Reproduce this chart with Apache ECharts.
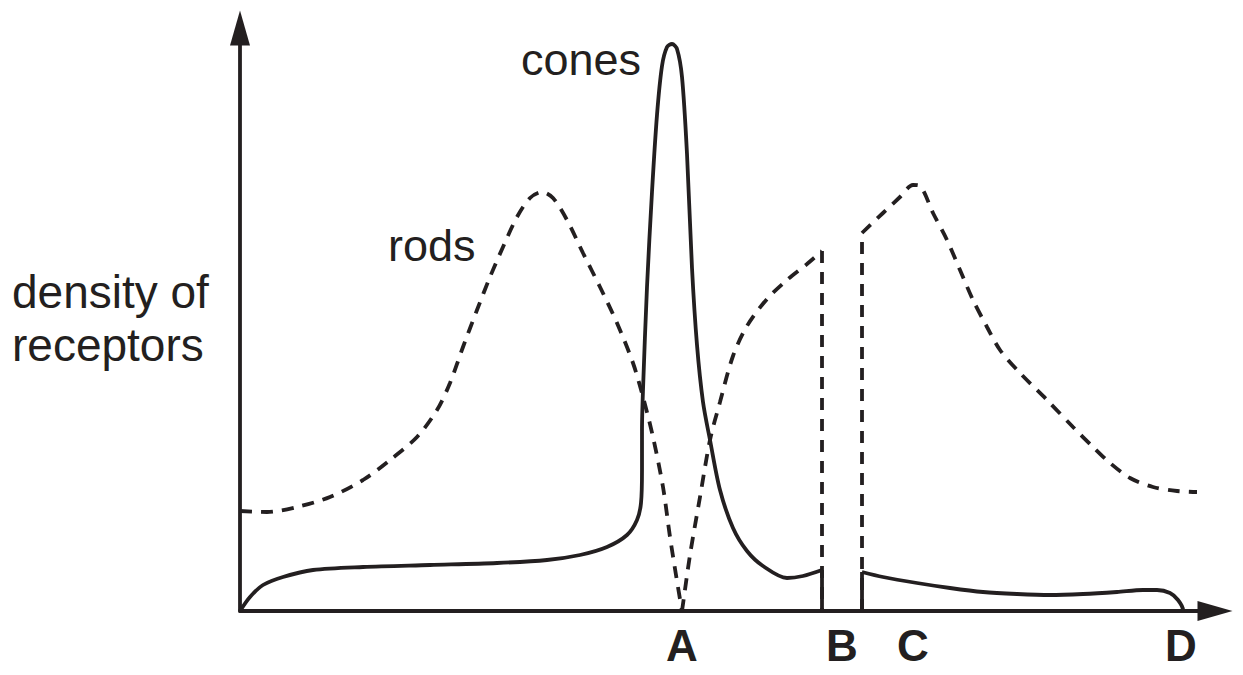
<!DOCTYPE html>
<html>
<head>
<meta charset="utf-8">
<script src="https://cdn.jsdelivr.net/npm/echarts@6.0.0/dist/echarts.min.js"></script>
<style>
  html, body { margin: 0; padding: 0; background: #fff; }
  #main { width: 1243px; height: 675px; }
</style>
</head>
<body>
<div id="main"></div>
<script>
// position along the retina (x) / receptor density (y), arbitrary units
var rodsLeft = [[0,100],[27,99],[57,104],[90,114],[123,131],[150,151],[177,174],[197,201],[210,228],[223,264],
  [237,301],[250,334],[263,364],[277,394],[290,413],[302,419],[313,413],[327,391],[343,358],[360,324],
  [377,288],[393,248],[403,214],[413,174],[423,124],[430,74],[436,36],[442,0]]
var rodsMid = [[442,0],[443,7],[450,56],[460,114],[470,171],[480,209],[493,255],[507,285],[527,312],
  [547,331],[567,347],[582,360]]
var rodsRight = [[622,378],[643,398],[660,414],[673,426],[680,425],[693,398],[707,371],[720,341],[733,311],
  [747,284],[760,261],[780,238],[807,211],[833,184],[853,164],[870,148],[890,133],[913,124],[937,120],[957,119]]
var rodsEdgeB = [[582,360],[582,0]]
var rodsEdgeC = [[622,0],[622,378]]

var conesLeft = [[0,0],[10,14],[23,26],[43,34],[73,41],[123,44],[190,46],[257,48],[307,51],[340,56],
  [367,64],[387,76],[397,91],[401,108],[402,141],[402,181],[403,221],[407,324],[412,419],[417,496],
  [422,545],[427,564],[432,567],[437,562],[442,534],[447,457],[452,343],[457,266],[463,209],[470,171],
  [480,121],[493,83],[507,60],[523,45],[547,33],[563,35],[582,41]]
var conesRight = [[622,39],[643,34],[677,28],[710,23],[743,19],[777,17],[810,16],[843,17],[877,19],
  [903,21],[917,21],[930,18],[938,11],[943,1],[943,0]]
var conesEdgeB = [[582,41],[582,0]]
var conesEdgeC = [[622,0],[622,39]]

var tickValues = [442, 602, 673, 941]
var tickLabels = ['A', 'B', 'C', 'D']

var ink = '#231f20'
var font = "'Liberation Sans', Arial, sans-serif"

function curve(data, dashed, smooth) {
    return {
        type: 'line',
        data: data,
        smooth: smooth,
        symbol: 'none',
        silent: true,
        z: dashed ? 2 : 3,
        lineStyle: {
            color: ink,
            width: 3.8,
            type: dashed ? [12, 9] : 'solid',
            cap: 'butt'
        }
    }
}

var myChart = echarts.init(document.getElementById('main'), null, { renderer: 'svg' })
var option = {
    animation: false,
    backgroundColor: '#fff',
    grid: { left: 240, right: 28, top: 28, bottom: 64 },
    xAxis: {
        type: 'value',
        min: 0,
        max: 975,
        splitLine: { show: false },
        axisTick: { show: false },
        axisLine: {
            lineStyle: { color: ink, width: 3.8 },
            symbol: ['none', 'triangle'],
            symbolSize: [20, 35]
        },
        axisLabel: {
            customValues: tickValues,
            formatter: function (v) { return tickLabels[tickValues.indexOf(v)] },
            color: ink,
            fontFamily: font,
            fontWeight: 'bold',
            fontSize: 44,
            lineHeight: 44,
            margin: 12
        }
    },
    yAxis: {
        type: 'value',
        min: 0,
        max: 583,
        splitLine: { show: false },
        axisTick: { show: false },
        axisLabel: { show: false },
        axisLine: {
            show: true,
            lineStyle: { color: ink, width: 3.8 },
            symbol: ['none', 'triangle'],
            symbolSize: [20, 35]
        }
    },
    graphic: [
        { type: 'text', left: 12, top: 269, style: { text: 'density of', font: '46px ' + font, fill: ink } },
        { type: 'text', left: 12, top: 322, style: { text: 'receptors', font: '46px ' + font, fill: ink } },
        { type: 'text', left: 388, top: 223, style: { text: 'rods', font: '45px ' + font, fill: ink } },
        { type: 'text', left: 521, top: 37, style: { text: 'cones', font: '45px ' + font, fill: ink } }
    ],
    series: [
        curve(rodsLeft, true, 0.3),
        curve(rodsMid, true, 0.3),
        curve(rodsRight, true, 0.3),
        curve(rodsEdgeB, true, false),
        curve(rodsEdgeC, true, false),
        curve(conesLeft, false, 0.3),
        curve(conesRight, false, 0.3),
        curve(conesEdgeB, false, false),
        curve(conesEdgeC, false, false)
    ]
}
myChart.setOption(option)
</script>
</body>
</html>
